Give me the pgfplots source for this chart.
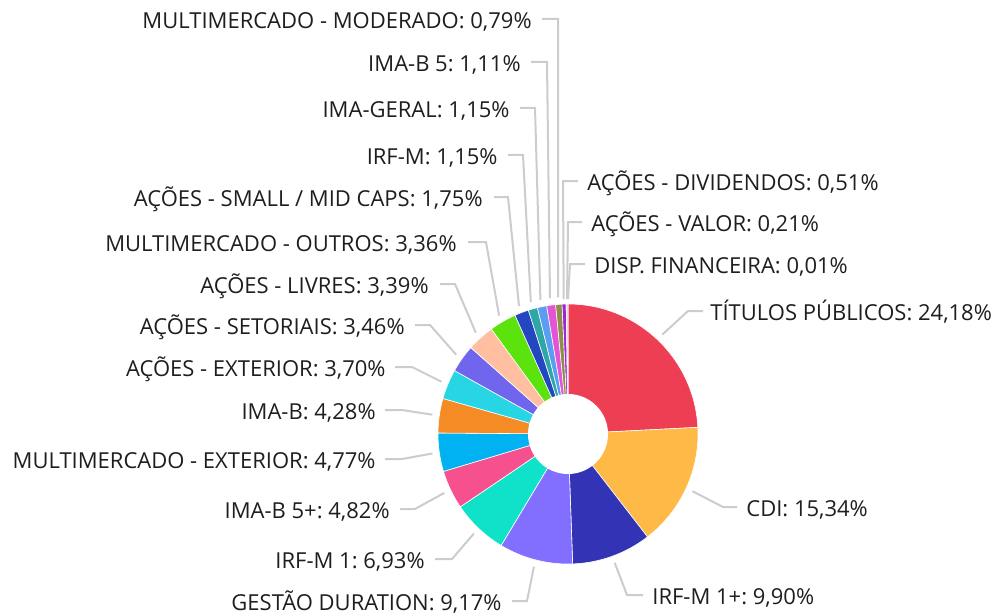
\documentclass[border=0pt]{standalone}
\usepackage{pgfplots}
\pgfplotsset{compat=1.18}
\usepackage{pgfplotstable}
\usepackage{fontspec}
\setmainfont{Open Sans}
\frenchspacing

\definecolor{cA}{HTML}{EE3E54}
\definecolor{cB}{HTML}{FFB947}
\definecolor{cC}{HTML}{3333B5}
\definecolor{cD}{HTML}{836FFF}
\definecolor{cE}{HTML}{0FE2C9}
\definecolor{cF}{HTML}{F7508E}
\definecolor{cG}{HTML}{00B2F2}
\definecolor{cH}{HTML}{F58B24}
\definecolor{cI}{HTML}{27D5E5}
\definecolor{cJ}{HTML}{7066EE}
\definecolor{cK}{HTML}{FFBFA0}
\definecolor{cL}{HTML}{5CE20C}
\definecolor{cM}{HTML}{2446C0}
\definecolor{cN}{HTML}{2FA7A7}
\definecolor{cO}{HTML}{5A9DF2}
\definecolor{cP}{HTML}{E354D6}
\definecolor{cQ}{HTML}{8E8E48}
\definecolor{cR}{HTML}{9C27D9}
\definecolor{cS}{HTML}{C8C8C8}
\definecolor{cT}{HTML}{EE3E54}
\definecolor{leadgray}{HTML}{CCCCCC}
\definecolor{txt}{HTML}{1E1E1E}

\pgfplotstableread[col sep=comma]{
pct,col
24.18,cA
15.34,cB
9.90,cC
9.17,cD
6.93,cE
4.82,cF
4.77,cG
4.28,cH
3.70,cI
3.46,cJ
3.39,cK
3.36,cL
1.75,cM
1.15,cN
1.15,cO
1.11,cP
0.79,cQ
0.51,cR
0.21,cS
0.01,cT
}\slices

\newcommand{\lead}[6]{\draw[leadgray, line width=1pt] (axis cs:#1,#2) -- (axis cs:#3,#4) -- (axis cs:#5,#6);}
\newcommand{\labR}[3]{\node[anchor=base west, inner sep=0pt, text=txt] at (axis cs:#1,#2+9.5) {#3};}
\newcommand{\labL}[3]{\node[anchor=base east, inner sep=0pt, text=txt] at (axis cs:#1,#2+9.5) {#3};}

\begin{document}
\begin{tikzpicture}
\begin{axis}[scale only axis, width=498pt, height=307.5pt,
  xmin=0, xmax=996, ymin=0, ymax=615, y dir=reverse,
  hide axis, clip=false]
\pgfplotsextra{%
  \gdef\cum{0}%
  \foreach \i in {0,...,19}{%
    \pgfplotstablegetelem{\i}{pct}\of\slices \let\slpct\pgfplotsretval
    \pgfplotstablegetelem{\i}{col}\of\slices \edef\slcol{\pgfplotsretval}%
    \pgfmathsetmacro{\sa}{90-\cum*3.6/0.9998}%
    \pgfmathsetmacro{\ea}{90-(\cum+\slpct)*3.6/0.9998}%
    \fill[fill=\slcol, draw=white, line width=0.3pt] (axis cs:568,434) -- ++(\sa:65pt) arc[start angle=\sa, end angle=\ea, radius=65pt] -- cycle;
    \pgfmathsetmacro{\newcum}{\cum+\slpct}%
    \xdef\cum{\newcum}%
  }%
  \fill[white] (axis cs:568,434) circle[radius=20pt];
  % leaders
  \lead{662.3}{334.6}{688}{311}{703}{311}
  \lead{692.5}{491.2}{723}{507}{737}{507}
  \lead{614.7}{562.8}{627}{595}{643}{595}
  \lead{533.9}{566.7}{527}{601}{512}{601}
  \lead{473.9}{533.5}{452}{559}{435}{559}
  \lead{444.3}{492.9}{415}{509}{400}{509}
  \lead{432.4}{453.5}{402}{459}{385}{459}
  \lead{432.4}{414.7}{402}{410}{385}{410}
  \lead{441.4}{381.7}{412}{367}{395}{367}
  \lead{456.2}{354.7}{430}{325}{415}{325}
  \lead{475.8}{332.7}{455}{284}{440}{284}
  \lead{499.1}{315.6}{486}{242}{468}{242}
  \lead{519}{306}{508}{197}{494}{197}
  \lead{530.8}{302.1}{523}{155}{508}{155}
  \lead{540.4}{299.8}{535}{108}{520}{108}
  \lead{550}{298.2}{547}{62}{531}{62}
  \lead{558.2}{297.4}{558}{19}{542}{19}
  \lead{563.7}{299}{563}{181}{578}{181}
  \lead{567}{299}{568}{222}{582}{222}
  \lead{568}{299}{570}{264}{585}{264}
  % labels
  \fontsize{11}{13}\selectfont
  \labR{710}{311}{TÍTULOS PÚBLICOS: 24,18\%}
  \labR{746}{507}{CDI: 15,34\%}
  \labR{652}{595}{IRF-M 1+: 9,90\%}
  \labL{502}{601}{GESTÃO DURATION: 9,17\%}
  \labL{425}{559}{IRF-M 1: 6,93\%}
  \labL{390}{509}{IMA-B 5+: 4,82\%}
  \labL{376}{459}{MULTIMERCADO - EXTERIOR: 4,77\%}
  \labL{376}{410}{IMA-B: 4,28\%}
  \labL{386}{367}{AÇÕES - EXTERIOR: 3,70\%}
  \labL{405}{325}{AÇÕES - SETORIAIS: 3,46\%}
  \labL{429}{284}{AÇÕES - LIVRES: 3,39\%}
  \labL{457}{242}{MULTIMERCADO - OUTROS: 3,36\%}
  \labL{483}{197}{AÇÕES - SMALL / MID CAPS: 1,75\%}
  \labL{498}{155}{IRF-M: 1,15\%}
  \labL{510}{108}{IMA-GERAL: 1,15\%}
  \labL{521}{62}{IMA-B 5: 1,11\%}
  \labL{532}{19}{MULTIMERCADO - MODERADO: 0,79\%}
  \labR{587}{181}{AÇÕES - DIVIDENDOS: 0,51\%}
  \labR{591}{222}{AÇÕES - VALOR: 0,21\%}
  \labR{594}{264}{DISP. FINANCEIRA: 0,01\%}
}
\end{axis}
\pgfresetboundingbox
\useasboundingbox (0,0) rectangle (498pt,307.5pt);
\end{tikzpicture}
\end{document}
